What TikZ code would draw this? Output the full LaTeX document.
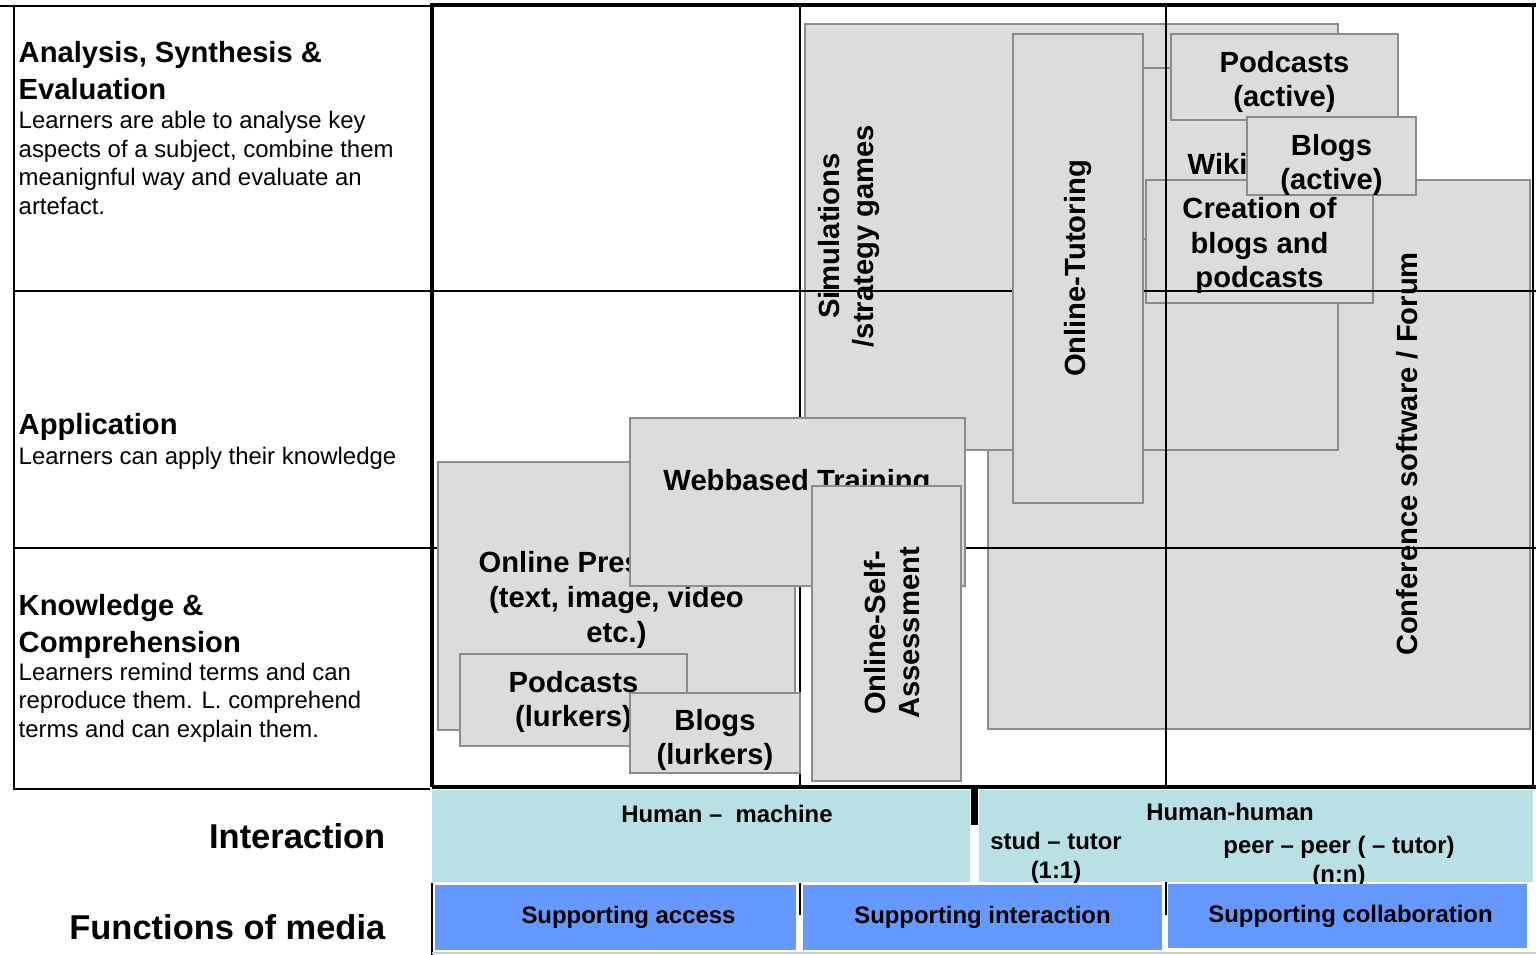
\documentclass[tikz,border=0pt]{standalone}
\usepackage{fontspec}
\setmainfont{Liberation Sans}
\usetikzlibrary{positioning,fit}

\definecolor{mediumfill}{HTML}{DCDCDC}
\definecolor{mediumline}{HTML}{8C8C8C}
\definecolor{interactfill}{HTML}{B9E0E4}
\definecolor{supportfill}{HTML}{6699FF}

\newcommand{\boxfont}{\fontsize{8.3}{9.9}\selectfont\bfseries}
\newcommand{\titlefont}{\fontsize{8.3}{10.4}\selectfont\bfseries}
\newcommand{\bodyfont}{\fontsize{6.8}{8.15}\selectfont}
\newcommand{\bandfont}{\fontsize{6.8}{8.2}\selectfont\bfseries}
\newcommand{\axisfont}{\fontsize{9.8}{11}\selectfont\bfseries}

% grey media boxes, upright labels and the blue function boxes
\newcommand{\blank}[2]{\node(#1)[medium,fit={#2}]{};}
\newcommand{\medium}[4][0]{\blank{#2}{#3}\node(#2text)[boxtext,shift={(0,#1)}] at (#2){#4};}
\newcommand{\upright}[3]{\node(#1)[boxtext,rotate=90] at (#2){#3};}
\newcommand{\support}[4][0]{\node(#2)[supportbox,fit={#3}]{};\node(#2text)[bandtext,shift={(#1,0)}] at (#2){#4};}

\begin{document}
\begin{tikzpicture}[x=0.01cm,y=-0.01cm,
  medium/.style={rectangle,draw=mediumline,fill=mediumfill,line width=0.6pt,inner sep=0pt},
  boxtext/.style={align=center,inner sep=0pt,font=\boxfont},
  rowtext/.style={anchor=north west,align=left,inner sep=0pt},
  band/.style={rectangle,fill=interactfill,inner sep=0pt},
  bandtext/.style={align=center,inner sep=0pt,font=\bandfont},
  supportbox/.style={rectangle,fill=supportfill,inner sep=0pt},
  axis/.style={anchor=base east,inner sep=0pt,font=\axisfont},
  grid/.style={line width=0.6pt},
  frame/.style={line width=1.4pt}]

\useasboundingbox (0,0) rectangle (1536,955);

% learning levels
\node(ase)[rowtext,font=\titlefont] at (18,41) {Analysis, Synthesis \&\\Evaluation};
\node(asetext)[rowtext,font=\bodyfont] at (18,110.5) {Learners are able to analyse key\\aspects of a subject, combine them\\meanignful way and evaluate an\\artefact.};
\node(app)[rowtext,font=\titlefont] at (18,413) {Application};
\node(apptext)[rowtext,font=\bodyfont] at (18,446.5) {Learners can apply their knowledge};
\node(know)[rowtext,font=\titlefont] at (18,594) {Knowledge \&\\Comprehension};
\node(knowtext)[rowtext,font=\bodyfont] at (18,662) {Learners remind terms and can\\reproduce them. L. comprehend\\terms and can explain them.};

% media, back to front
\blank{conf}{(988,180) (1530,729)}
\upright{conftext}{1407,454}{Conference software / Forum}
\blank{sim}{(805,24) (1338,450)}
\upright{simtext}{849,236}{Simulations\\/strategy games}
\blank{wiki}{(1100,68) (1330,239)}
\node(wikitext)[anchor=base west,inner sep=0pt,font=\boxfont] at (1187,175) {Wiki};
\medium[4]{creat}{(1146,180) (1373,303)}{Creation of\\blogs and\\podcasts}

% grid
\draw[grid] (0,6) -- (432,6);
\draw[grid] (14,6) -- (14,789) -- (430,789);
\draw[grid] (14,291) -- (1536,291);
\draw[grid] (14,548) -- (1536,548);
\draw[grid] (800,5) -- (800,787);
\draw[grid] (1166,5) -- (1166,787);
\draw[grid] (1533,5) -- (1533,787);

\blank{tut}{(1013,34) (1143,503)}
\upright{tuttext}{tut}{Online-Tutoring}
\medium[5]{podact}{(1171,34) (1398,120)}{Podcasts\\(active)}
\medium[9]{blogact}{(1247,117) (1416,195)}{Blogs\\(active)}
\medium[4]{pres}{(438,462) (795,730)}{Online Pres\phantom{entation}\\(text, image, video\\etc.)}
\blank{web}{(630,418) (965,586)}
\node(webtext)[anchor=base,inner sep=0pt,font=\boxfont] at (797,491) {Webbased Training};
\medium[2]{podlurk}{(460,654) (687,746)}{Podcasts\\(lurkers)}
\medium[7]{bloglurk}{(630,693) (800,773)}{Blogs\\(lurkers)}
\blank{self}{(812,486) (961,781)}
\upright{selftext}{892,633}{Online-Self-\\Assessment}

\draw[frame] (432,787) -- (432,5) -- (1536,5);
\draw[frame] (432,787) -- (1536,787);

% interaction
\node(hm)[band,fit={(432,790) (970,882)}]{};
\node(hh)[band,fit={(979,790) (1533,882)}]{};
\draw[line width=2.2pt] (974.5,787) -- (974.5,825);
\node(hmtext)[bandtext,anchor=base] at (727,822) {Human –\ \ machine};
\node(hhtext)[bandtext,anchor=base] at (1230,820) {Human-human};
\node(stud)[bandtext] at (1056,858) {stud – tutor\\(1:1)};
\node(peer)[bandtext] at (1339,862) {peer – peer ( – tutor)\\(n:n)};

% functions of media
\support[13]{access}{(435,885) (796,950)}{Supporting access}
\support{inter}{(803,885) (1162,950)}{Supporting interaction}
\support[3]{collab}{(1168,884) (1527,948)}{Supporting collaboration}
\draw[grid] (432,883) -- (432,955);
\draw[grid] (800,883) -- (800,915);
\draw[grid] (1166,882) -- (1166,915);
\draw[gray!40,line width=0.6pt] (432,953) -- (1536,953);

\node(interaction)[axis] at (386,848) {Interaction};
\node(functions)[axis] at (386,939) {Functions of media};

\end{tikzpicture}
\end{document}
